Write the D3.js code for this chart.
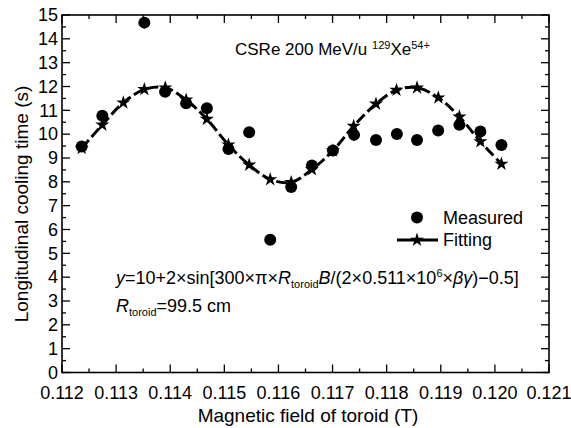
<!DOCTYPE html>
<html>
<head>
<meta charset="utf-8">
<script src="https://cdn.jsdelivr.net/npm/d3@7"></script>
<style>
  html, body { margin: 0; padding: 0; background: #fff; }
  text { font-family: "Liberation Sans", Arial, sans-serif; fill: #000; }
</style>
</head>
<body>
<svg id="chart" width="571" height="428"></svg>
<script>
// ---- data ----
const measuredB = [0.112364, 0.112745, 0.113522, 0.113905, 0.114294, 0.114677, 0.115076, 0.115459, 0.115848, 0.116236,
                   0.116619, 0.117007, 0.117398, 0.117803, 0.118189, 0.118561, 0.118952, 0.119344, 0.119732, 0.120121];
const measuredT = [9.48, 10.77, 14.68, 11.78, 11.30, 11.09, 9.38, 10.08, 5.57, 7.78,
                   8.69, 9.31, 9.97, 9.76, 10.01, 9.76, 10.15, 10.39, 10.11, 9.55];
const fitB = [0.112364, 0.112745, 0.113133, 0.113522, 0.113909, 0.114294, 0.114677, 0.115076, 0.115459, 0.115848, 0.116236,
              0.116619, 0.117007, 0.117390, 0.117803, 0.118182, 0.118561, 0.118955, 0.119344, 0.119732, 0.120121];
const fitT = [9.41, 10.39, 11.32, 11.88, 11.95, 11.44, 10.63, 9.55, 8.71, 8.10, 7.98,
              8.52, 9.31, 10.34, 11.27, 11.85, 11.95, 11.53, 10.73, 9.69, 8.75];
const xTicks = [0.112, 0.113, 0.114, 0.115, 0.116, 0.117, 0.118, 0.119, 0.120, 0.121];
const yTicks = [0, 1, 2, 3, 4, 5, 6, 7, 8, 9, 10, 11, 12, 13, 14, 15];

// ---- layout ----
const svg = d3.select("#chart");
const L = 62, R = 549, T = 15, B = 372.5;
const x = d3.scaleLinear().domain([0.112, 0.121]).range([L, R]);
const y = d3.scaleLinear().domain([0, 15]).range([B, T]);
const font = 18, titleFont = 19, small = 11;

// frame
svg.append("rect").attr("x", L).attr("y", T).attr("width", R - L).attr("height", B - T)
  .attr("fill", "none").attr("stroke", "#000").attr("stroke-width", 1.6);

// ticks (inward)
const xMinor = d3.range(0, 19).map(i => 0.112 + i * 0.0005);
const yMinor = d3.range(0, 31).map(i => i * 0.5);
const tickG = svg.append("g").attr("stroke", "#000").attr("stroke-width", 1.3);
xMinor.forEach((v, i) => {
  const len = i % 2 === 0 ? 8 : 4;
  tickG.append("line").attr("x1", x(v)).attr("x2", x(v)).attr("y1", B).attr("y2", B - len);
  tickG.append("line").attr("x1", x(v)).attr("x2", x(v)).attr("y1", T).attr("y2", T + len);
});
yMinor.forEach((v, i) => {
  const len = i % 2 === 0 ? 8 : 4;
  tickG.append("line").attr("x1", L).attr("x2", L + len).attr("y1", y(v)).attr("y2", y(v));
  tickG.append("line").attr("x1", R).attr("x2", R - len).attr("y1", y(v)).attr("y2", y(v));
});

// tick labels
svg.append("g").selectAll("text").data(xTicks).join("text")
  .attr("x", d => x(d)).attr("y", B + 26).attr("text-anchor", "middle")
  .attr("font-size", font).text(d => d3.format(".3f")(d));
svg.append("g").selectAll("text").data(yTicks).join("text")
  .attr("x", L - 4).attr("y", d => y(d)).attr("dy", "0.35em").attr("text-anchor", "end")
  .attr("font-size", font).text(d => d);

// axis titles
svg.append("text").attr("x", 308).attr("y", 422).attr("text-anchor", "middle")
  .attr("font-size", titleFont).text("Magnetic field of toroid (T)");
svg.append("text").attr("transform", `translate(28,204) rotate(-90)`)
  .attr("text-anchor", "middle").attr("font-size", titleFont).text("Longitudinal cooling time (s)");

// fit line
const fitData = fitB.map((b, i) => [b, fitT[i]]);
svg.append("path").datum(fitData)
  .attr("d", d3.line().x(d => x(d[0])).y(d => y(d[1])).curve(d3.curveCatmullRom))
  .attr("fill", "none").attr("stroke", "#000").attr("stroke-width", 3)
  .attr("stroke-dasharray", "11,4");

const star = d3.symbol().type(d3.symbolStar).size(62);
svg.append("g").selectAll("path").data(fitData).join("path")
  .attr("transform", d => `translate(${x(d[0])},${y(d[1])})`)
  .attr("d", star).attr("fill", "#000");

// measured
const measData = measuredB.map((b, i) => [b, measuredT[i]]);
svg.append("g").selectAll("circle").data(measData).join("circle")
  .attr("cx", d => x(d[0])).attr("cy", d => y(d[1])).attr("r", 6).attr("fill", "#000");

// legend
svg.append("circle").attr("cx", 417).attr("cy", 217.5).attr("r", 6).attr("fill", "#000");
svg.append("text").attr("x", 443).attr("y", 223.5).attr("font-size", font).text("Measured");
svg.append("line").attr("x1", 397).attr("x2", 438).attr("y1", 240).attr("y2", 240)
  .attr("stroke", "#000").attr("stroke-width", 3);
svg.append("path").attr("transform", "translate(417,240)").attr("d", star).attr("fill", "#000");
svg.append("text").attr("x", 443).attr("y", 246).attr("font-size", font).text("Fitting");

// annotation title
const t1 = svg.append("text").attr("x", 235).attr("y", 55).attr("font-size", font - 1);
t1.append("tspan").text("CSRe 200 MeV/u ");
t1.append("tspan").attr("font-size", small).attr("dy", -6).text("129");
t1.append("tspan").attr("dy", 6).text("Xe");
t1.append("tspan").attr("font-size", small).attr("dy", -6).text("54+");

// formula
const f = svg.append("text").attr("x", 116).attr("y", 284).attr("font-size", font);
f.append("tspan").attr("font-style", "italic").text("y");
f.append("tspan").text("=10+2×sin[300×π×");
f.append("tspan").attr("font-style", "italic").text("R");
f.append("tspan").attr("font-size", small).attr("dy", 4).text("toroid");
f.append("tspan").attr("font-style", "italic").attr("dy", -4).text("B");
f.append("tspan").text("/(2×0.511×10");
f.append("tspan").attr("font-size", small).attr("dy", -7).text("6");
f.append("tspan").attr("dy", 7).text("×");
f.append("tspan").attr("font-style", "italic").text("βγ");
f.append("tspan").text(")−0.5]");

const f2 = svg.append("text").attr("x", 116).attr("y", 312).attr("font-size", font);
f2.append("tspan").attr("font-style", "italic").text("R");
f2.append("tspan").attr("font-size", small).attr("dy", 4).text("toroid");
f2.append("tspan").attr("dy", -4).text("=99.5 cm");
</script>
</body>
</html>
